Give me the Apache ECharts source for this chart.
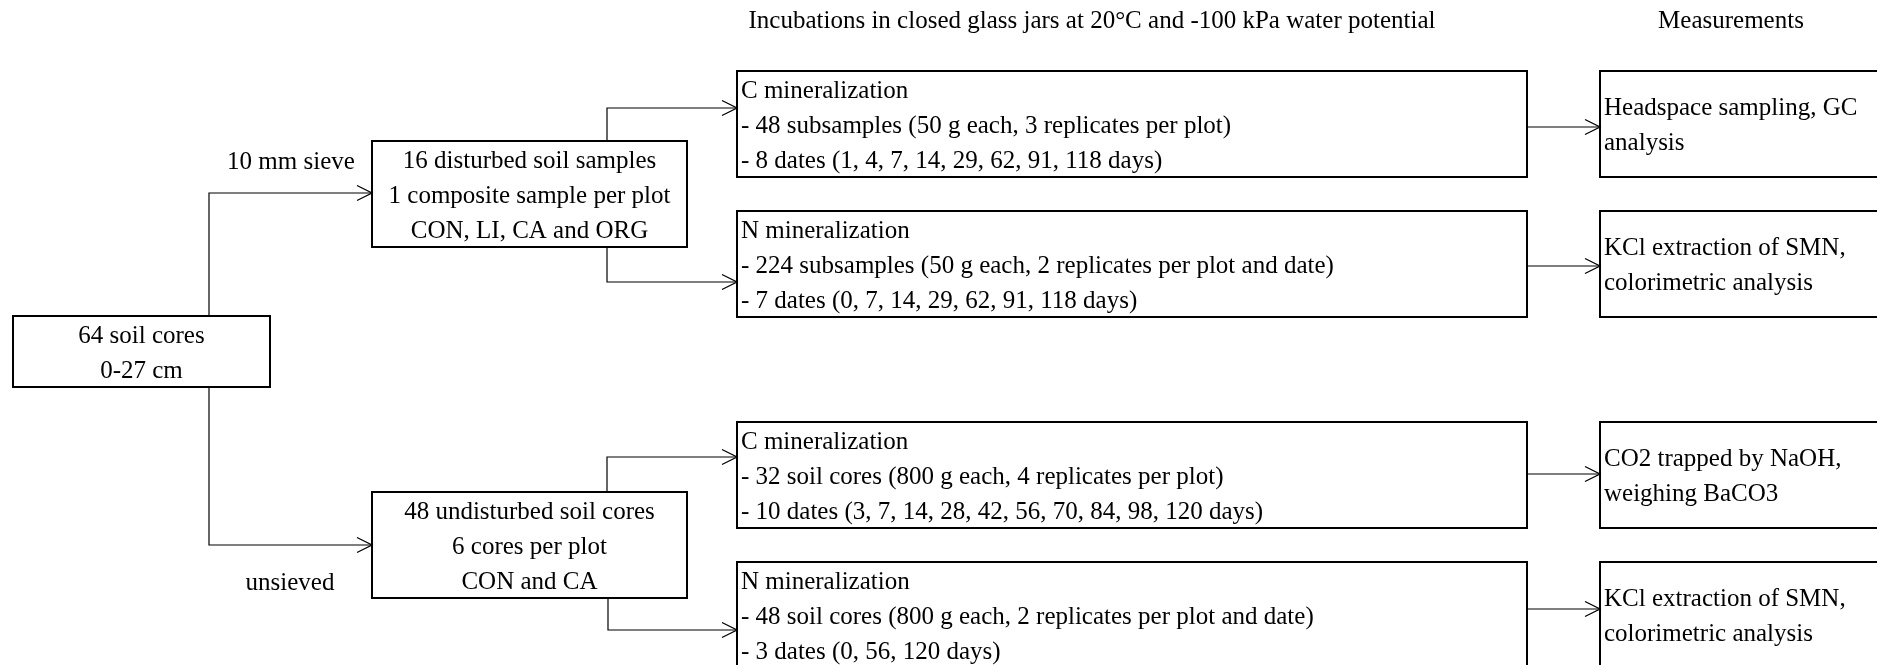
<!DOCTYPE html>
<html>
<head>
<meta charset="utf-8">
<script src="https://cdn.jsdelivr.net/npm/echarts@6/dist/echarts.min.js"></script>
<style>
html, body { margin: 0; padding: 0; background: #fff; }
#flowChart { width: 1877px; height: 665px; }
</style>
</head>
<body>
<div id="flowChart"></div>
<script>
// texts of the diagram
const headers = ['Incubations in closed glass jars at 20°C and -100 kPa water potential', 'Measurements'];
const sieveLabels = ['10 mm sieve', 'unsieved'];
const sourceBox = ['64 soil cores', '0-27 cm'];
const sampleBoxes = [
    ['16 disturbed soil samples', '1 composite sample per plot', 'CON, LI, CA and ORG'],
    ['48 undisturbed soil cores', '6 cores per plot', 'CON and CA']
];
const incubationBoxes = [
    ['C mineralization', '- 48 subsamples (50 g each, 3 replicates per plot)', '- 8 dates (1, 4, 7, 14, 29, 62, 91, 118 days)'],
    ['N mineralization', '- 224 subsamples (50 g each, 2 replicates per plot and date)', '- 7 dates (0, 7, 14, 29, 62, 91, 118 days)'],
    ['C mineralization', '- 32 soil cores (800 g each, 4 replicates per plot)', '- 10 dates (3, 7, 14, 28, 42, 56, 70, 84, 98, 120 days)'],
    ['N mineralization', '- 48 soil cores (800 g each, 2 replicates per plot and date)', '- 3 dates (0, 56, 120 days)']
];
const measurementBoxes = [
    ['Headspace sampling, GC', 'analysis'],
    ['KCl extraction of SMN,', 'colorimetric analysis'],
    ['CO2 trapped by NaOH,', 'weighing BaCO3'],
    ['KCl extraction of SMN,', 'colorimetric analysis']
];

// layout in diagram units (hidden axes map them to the canvas)
const columns = { source: [13, 270], sample: [372, 687], incubation: [737, 1527], measure: [1600, 1900] };
const sourceRow = [316, 387];
const sampleRows = [[141, 247], [492, 598]];
const incubationRows = [[71, 177], [211, 317], [422, 528], [562, 668]];
const splitX = [209, 607];
const elbowY = [108, 282, 457, 630];
const measureArrowY = [127, 266, 474, 609];

const FONT = '25px "Liberation Serif", "Times New Roman", serif';
const LINE_H = 35;

function buildBoxes() {
    let boxes = [];
    boxes.push({ x: columns.source, y: sourceRow, lines: sourceBox, align: 'center' });
    sampleBoxes.forEach((b, i) => {
        boxes.push({ x: columns.sample, y: sampleRows[i], lines: b, align: 'center' });
    });
    incubationBoxes.forEach((b, i) => {
        boxes.push({ x: columns.incubation, y: incubationRows[i], lines: b, align: 'left' });
    });
    measurementBoxes.forEach((b, i) => {
        boxes.push({ x: columns.measure, y: incubationRows[i], lines: b, align: 'left' });
    });
    return boxes;
}

function buildConnectors() {
    let conn = [];
    let sx = splitX[0];
    conn.push([[sx, sourceRow[0]], [sx, (sampleRows[0][0] + sampleRows[0][1]) / 2 - 1], [columns.sample[0], (sampleRows[0][0] + sampleRows[0][1]) / 2 - 1]]);
    conn.push([[sx, sourceRow[1]], [sx, (sampleRows[1][0] + sampleRows[1][1]) / 2], [columns.sample[0], (sampleRows[1][0] + sampleRows[1][1]) / 2]]);
    let px = splitX[1];
    conn.push([[px, sampleRows[0][0]], [px, elbowY[0]], [columns.incubation[0], elbowY[0]]]);
    conn.push([[px, sampleRows[0][1]], [px, elbowY[1]], [columns.incubation[0], elbowY[1]]]);
    conn.push([[px, sampleRows[1][0]], [px, elbowY[2]], [columns.incubation[0], elbowY[2]]]);
    conn.push([[px + 1, sampleRows[1][1]], [px + 1, elbowY[3]], [columns.incubation[0], elbowY[3]]]);
    measureArrowY.forEach(y => {
        conn.push([[columns.incubation[1], y], [columns.measure[0], y]]);
    });
    return conn;
}

function buildLabels() {
    return [
        { text: headers[0], pos: [1092, 21] },
        { text: headers[1], pos: [1731, 21] },
        { text: sieveLabels[0], pos: [291, 162] },
        { text: sieveLabels[1], pos: [290, 583] }
    ];
}

const boxes = buildBoxes();
const connectors = buildConnectors();
const labels = buildLabels();

let chart = echarts.init(document.getElementById('flowChart'));

let options = {
    backgroundColor: '#ffffff',
    animation: false,
    grid: { left: 0, right: 0, top: 0, bottom: 0 },
    xAxis: { type: 'value', min: 0, max: 1877, show: false },
    yAxis: { type: 'value', min: 0, max: 665, inverse: true, show: false },
    series: [
        {
            type: 'custom',
            name: 'boxes',
            data: boxes.map((b, i) => [i]),
            renderItem: (params, api) => {
                let b = boxes[api.value(0)];
                let p0 = api.coord([b.x[0], b.y[0]]);
                let p1 = api.coord([b.x[1], b.y[1]]);
                let cy = (p0[1] + p1[1]) / 2 + 2;
                let n = b.lines.length;
                let children = [{
                    type: 'rect',
                    shape: { x: p0[0], y: p0[1], width: p1[0] - p0[0], height: p1[1] - p0[1] },
                    style: { fill: '#fff', stroke: '#000', lineWidth: 2 }
                }];
                b.lines.forEach((t, k) => {
                    children.push({
                        type: 'text',
                        style: {
                            text: t,
                            x: b.align == 'center' ? (p0[0] + p1[0]) / 2 : p0[0] + 4,
                            y: cy + (k - (n - 1) / 2) * LINE_H,
                            font: FONT,
                            fill: '#000',
                            align: b.align,
                            verticalAlign: 'middle'
                        }
                    });
                });
                return { type: 'group', children: children };
            }
        },
        {
            type: 'custom',
            name: 'connectors',
            data: connectors.map((c, i) => [i]),
            renderItem: (params, api) => {
                let pts = connectors[api.value(0)].map(p => api.coord(p));
                let end = pts[pts.length - 1];
                return {
                    type: 'group',
                    children: [
                        {
                            type: 'polyline',
                            shape: { points: pts },
                            style: { stroke: '#000', lineWidth: 1.2, fill: null }
                        },
                        {
                            type: 'polyline',
                            shape: { points: [[end[0] - 15, end[1] - 7.5], end, [end[0] - 15, end[1] + 7.5]] },
                            style: { stroke: '#000', lineWidth: 1.3, fill: null }
                        }
                    ]
                };
            }
        },
        {
            type: 'custom',
            name: 'labels',
            data: labels.map((l, i) => [i]),
            renderItem: (params, api) => {
                let l = labels[api.value(0)];
                let p = api.coord(l.pos);
                return {
                    type: 'text',
                    style: {
                        text: l.text, x: p[0], y: p[1], font: FONT, fill: '#000',
                        align: 'center', verticalAlign: 'middle'
                    }
                };
            }
        }
    ]
};

chart.setOption(options);
</script>
</body>
</html>
